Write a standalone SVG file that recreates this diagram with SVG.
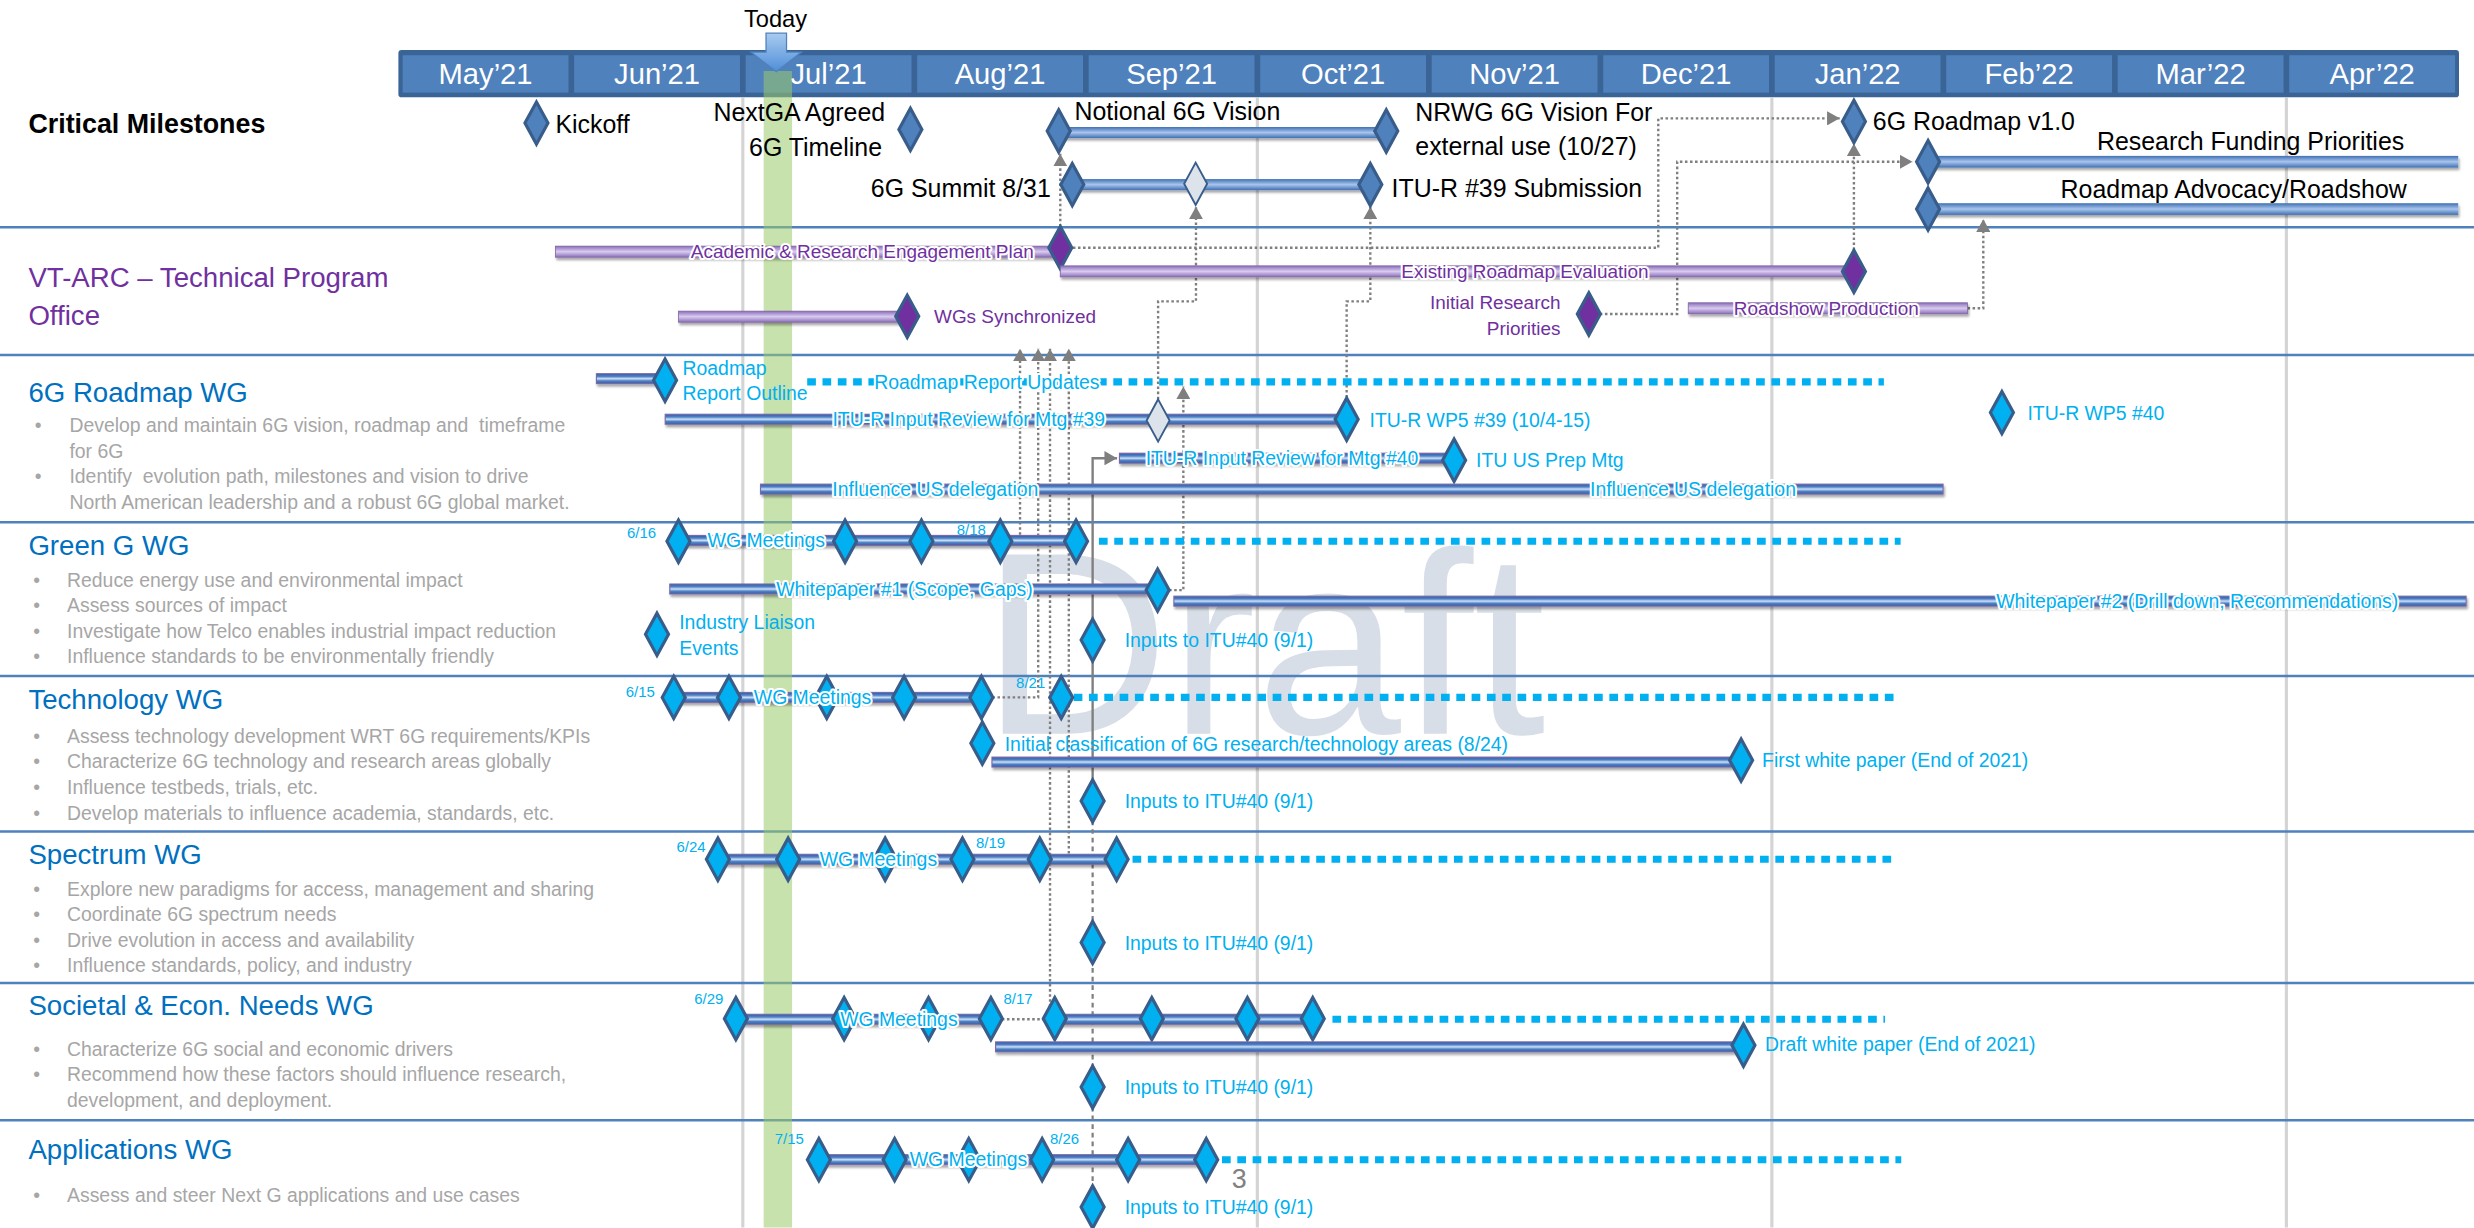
<svg xmlns="http://www.w3.org/2000/svg" width="2474" height="1228" viewBox="0 0 2474 1228">
<defs>
<style>
text{font-family:"Liberation Sans",Arial,sans-serif}
.top{font-size:15.8px;fill:#000}
.mon{font-size:18.5px;fill:#fff;text-anchor:middle}
.ttl{font-size:17.5px;fill:#0070C0}
.vt{font-size:17.5px;fill:#7030A0}
.bul{font-size:12.3px;fill:#A6A6A6}
.cy{font-size:12.3px;fill:#00B0F0}
.pu{font-size:12px;fill:#7030A0}
.dt{font-size:9.5px;fill:#00B0F0}
.h{stroke:#fff;stroke-width:2.6px;stroke-linejoin:round;paint-order:stroke fill}
.m{text-anchor:middle}
.e{text-anchor:end}
.db{fill:#4F81BD;stroke:#385D8A;stroke-width:2px}
.dc{fill:#00B0F0;stroke:#385D8A;stroke-width:2px}
.dp{fill:#7030A0;stroke:#385D8A;stroke-width:2px}
.dg{fill:#DDE3EA;stroke:#385D8A;stroke-width:1.2px}
.bb{fill:url(#gB);filter:url(#sh)}
.bw{fill:url(#gW);stroke:#7B68A8;stroke-width:0.7px;filter:url(#sh)}
.bp{fill:url(#gP);stroke:#8064A2;stroke-width:0.5px;filter:url(#sh)}
.cd{fill:none;stroke:#00B0F0;stroke-width:4.5px;stroke-dasharray:5.5 4.2}
.cn{fill:none;stroke:#7F7F7F;stroke-width:1.5px;stroke-dasharray:1.6 1.6;marker-end:url(#ah)}
.sep{stroke:#4F81BD;stroke-width:1.6px}
.grid{stroke:#D4D4D4;stroke-width:2px}
.cell{fill:#4F81BD}
</style>
<linearGradient id="gB" x1="0" y1="0" x2="0" y2="1"><stop offset="0" stop-color="#3F70B4"/><stop offset="0.5" stop-color="#A9C5EC"/><stop offset="1" stop-color="#3F70B4"/></linearGradient>
<linearGradient id="gW" x1="0" y1="0" x2="0" y2="1"><stop offset="0" stop-color="#2F5DA0"/><stop offset="0.28" stop-color="#4F82C8"/><stop offset="0.5" stop-color="#CFE0F4"/><stop offset="0.72" stop-color="#4F82C8"/><stop offset="1" stop-color="#2F5DA0"/></linearGradient>
<linearGradient id="gP" x1="0" y1="0" x2="0" y2="1"><stop offset="0" stop-color="#8B6DBA"/><stop offset="0.5" stop-color="#D9CCEF"/><stop offset="1" stop-color="#8B6DBA"/></linearGradient>
<linearGradient id="gT" x1="0" y1="0" x2="0" y2="1"><stop offset="0" stop-color="#A9CBF0"/><stop offset="1" stop-color="#4F8ED8"/></linearGradient>
<filter id="sh" x="-5%" y="-60%" width="110%" height="260%"><feDropShadow dx="0.8" dy="1.6" stdDeviation="0.8" flood-color="#000" flood-opacity="0.35"/></filter>
<marker id="ah" viewBox="0 0 10 10" refX="10" refY="5" markerWidth="8" markerHeight="9" markerUnits="userSpaceOnUse" orient="auto" preserveAspectRatio="none"><path d="M0,0 L10,5 L0,10 Z" fill="#7F7F7F"/></marker>
<path id="dm" d="M0,-13.4 L7.3,0 L0,13.4 L-7.3,0 Z"/>
</defs>
<rect width="2474" height="1228" fill="#fff"/>
<g transform="scale(1.5778)">

<g id="background">
<g class="grid"><line x1="470.8" y1="62" x2="470.8" y2="778"/><line x1="796.9" y1="62" x2="796.9" y2="778"/><line x1="1123" y1="62" x2="1123" y2="778"/><line x1="1449.1" y1="62" x2="1449.1" y2="778"/></g>
<text x="622" y="465" font-size="165" fill="#D8DEE7">Draft</text>
<g class="sep"><line x1="0" y1="144" x2="1568" y2="144"/><line x1="0" y1="225" x2="1568" y2="225"/><line x1="0" y1="331" x2="1568" y2="331"/><line x1="0" y1="428.5" x2="1568" y2="428.5"/><line x1="0" y1="527" x2="1568" y2="527"/><line x1="0" y1="623" x2="1568" y2="623"/><line x1="0" y1="710" x2="1568" y2="710"/></g>
</g>

<g id="timeline-header">
<rect x="252.5" y="31.7" width="1306" height="30" rx="2" fill="#3A6496"/>
<rect class="cell" x="255.2" y="35" width="105.1" height="23.7"/>
<rect class="cell" x="363.9" y="35" width="105.1" height="23.7"/>
<rect class="cell" x="472.6" y="35" width="105.1" height="23.7"/>
<rect class="cell" x="581.3" y="35" width="105.1" height="23.7"/>
<rect class="cell" x="690" y="35" width="105.1" height="23.7"/>
<rect class="cell" x="798.7" y="35" width="105.1" height="23.7"/>
<rect class="cell" x="907.4" y="35" width="105.1" height="23.7"/>
<rect class="cell" x="1016.1" y="35" width="105.1" height="23.7"/>
<rect class="cell" x="1124.8" y="35" width="105.1" height="23.7"/>
<rect class="cell" x="1233.5" y="35" width="105.1" height="23.7"/>
<rect class="cell" x="1342.2" y="35" width="105.1" height="23.7"/>
<rect class="cell" x="1450.9" y="35" width="105.1" height="23.7"/>
<text class="mon" x="307.75" y="53">May’21</text>
<text class="mon" x="416.45" y="53">Jun’21</text>
<text class="mon" x="525.15" y="53">Jul’21</text>
<text class="mon" x="633.85" y="53">Aug’21</text>
<text class="mon" x="742.55" y="53">Sep’21</text>
<text class="mon" x="851.25" y="53">Oct’21</text>
<text class="mon" x="959.95" y="53">Nov’21</text>
<text class="mon" x="1068.65" y="53">Dec’21</text>
<text class="mon" x="1177.35" y="53">Jan’22</text>
<text class="mon" x="1286.05" y="53">Feb’22</text>
<text class="mon" x="1394.75" y="53">Mar’22</text>
<text class="mon" x="1503.45" y="53">Apr’22</text>
</g>

<g id="today">
<rect x="484" y="45" width="18" height="733" fill="#9BCB6C" opacity="0.55"/>
<path d="M485.5,21 H498.5 V33 H508 L492,45.5 L476,33 H485.5 Z" fill="url(#gT)" stroke="#4F81BD" stroke-width="0.8"/>
<text x="491.5" y="17" font-size="15" class="m">Today</text>
</g>

<g id="row-labels">
<text x="18" y="84" font-size="17" font-weight="bold" fill="#000">Critical Milestones</text>
<text class="vt" x="18" y="182">VT-ARC – Technical Program</text>
<text class="vt" x="18" y="206">Office</text>
<text class="ttl" x="18" y="254.6">6G Roadmap WG</text>
<g class="bul">
<text x="22" y="273.6">•</text><text x="44" y="273.6" xml:space="preserve">Develop and maintain 6G vision, roadmap and  timeframe</text>
<text x="44" y="290">for 6G</text>
<text x="22" y="306.3">•</text><text x="44" y="306.3" xml:space="preserve">Identify  evolution path, milestones and vision to drive</text>
<text x="44" y="322.6">North American leadership and a robust 6G global market.</text>
</g>
<text class="ttl" x="18" y="351.7">Green G WG</text>
<g class="bul">
<text x="21" y="371.8">•</text><text x="42.5" y="371.8">Reduce energy use and environmental impact</text>
<text x="21" y="388">•</text><text x="42.5" y="388">Assess sources of impact</text>
<text x="21" y="404.2">•</text><text x="42.5" y="404.2">Investigate how Telco enables industrial impact reduction</text>
<text x="21" y="420.4">•</text><text x="42.5" y="420.4">Influence standards to be environmentally friendly</text>
</g>
<text class="ttl" x="18" y="449.5">Technology WG</text>
<g class="bul">
<text x="21" y="471">•</text><text x="42.5" y="471">Assess technology development WRT 6G requirements/KPIs</text>
<text x="21" y="487">•</text><text x="42.5" y="487">Characterize 6G technology and research areas globally</text>
<text x="21" y="503">•</text><text x="42.5" y="503">Influence testbeds, trials, etc.</text>
<text x="21" y="519.5">•</text><text x="42.5" y="519.5">Develop materials to influence academia, standards, etc.</text>
</g>
<text class="ttl" x="18" y="547.5">Spectrum WG</text>
<g class="bul">
<text x="21" y="568">•</text><text x="42.5" y="568">Explore new paradigms for access, management and sharing</text>
<text x="21" y="584">•</text><text x="42.5" y="584">Coordinate 6G spectrum needs</text>
<text x="21" y="600">•</text><text x="42.5" y="600">Drive evolution in access and availability</text>
<text x="21" y="616">•</text><text x="42.5" y="616">Influence standards, policy, and industry</text>
</g>
<text class="ttl" x="18" y="643.5">Societal &amp; Econ. Needs WG</text>
<g class="bul">
<text x="21" y="669">•</text><text x="42.5" y="669">Characterize 6G social and economic drivers</text>
<text x="21" y="685">•</text><text x="42.5" y="685">Recommend how these factors should influence research,</text>
<text x="42.5" y="701.5">development, and deployment.</text>
</g>
<text class="ttl" x="18" y="734.5">Applications WG</text>
<g class="bul">
<text x="21" y="762">•</text><text x="42.5" y="762">Assess and steer Next G applications and use cases</text>
</g>
</g>

<g id="connectors">
<path class="cn" d="M672,143.5 V97.5"/>
<path class="cn" d="M734,253 V191 H758 V131"/>
<path class="cn" d="M853.5,252 V191 H868.5 V131"/>
<path class="cn" d="M680,157 H1051 V75 H1166"/>
<path class="cn" d="M1014,199 H1063 V102.5 H1212"/>
<path class="cn" d="M1175,158.5 V91"/>
<path class="cn" d="M1247,195.4 H1257 V139"/>
<path class="cn" d="M641,343 H646.5 V221"/>
<path class="cn" d="M629,442 H658 V221"/>
<path class="cn" d="M617,544.6 H677.4 V221"/>
<path class="cn" d="M635,646 H665.5 V221"/>
<path class="cn" d="M741,374 H750 V245"/>
<path d="M692.5,507.6 V290.4 H708" fill="none" stroke="#7F7F7F" stroke-width="1.5" marker-end="url(#ah)"/>
<path d="M692.5,765 V507.6" fill="none" stroke="#7F7F7F" stroke-width="1.4" stroke-dasharray="3 2.5"/>
</g>

<g id="kickoff"><use href="#dm" x="340" y="78" class="db"/><text class="top" x="352" y="84.5">Kickoff</text></g>
<g id="nextga-timeline"><use href="#dm" x="577" y="82" class="db"/><text class="top e" x="561" y="77">NextGA Agreed</text><text class="top e" x="559" y="99">6G Timeline</text></g>
<g id="notional-vision"><rect class="bb" x="671" y="80.5" width="207.6" height="7"/><use href="#dm" x="671" y="83" class="db"/><use href="#dm" x="878.6" y="83" class="db"/><text class="top" x="681" y="76">Notional 6G Vision</text><text class="top" x="897" y="77">NRWG 6G Vision For</text><text class="top" x="897" y="98.5">external use (10/27)</text></g>
<g id="summit-itu39"><rect class="bb" x="680" y="113.5" width="188.5" height="7"/><use href="#dm" x="679.6" y="117" class="db"/><use href="#dm" x="757.8" y="116.5" class="dg"/><use href="#dm" x="868.5" y="117" class="db"/><text class="top e" x="666" y="125">6G Summit 8/31</text><text class="top" x="882" y="124.7">ITU-R #39 Submission</text></g>
<g id="roadmap-v1"><use href="#dm" x="1175" y="77" class="db"/><text class="top" x="1187" y="82.5">6G Roadmap v1.0</text></g>
<g id="research-funding"><rect class="bb" x="1222" y="98.8" width="336" height="7.4"/><use href="#dm" x="1222" y="102.5" class="db"/><text class="top" x="1329" y="95">Research Funding Priorities</text></g>
<g id="roadmap-advocacy"><rect class="bb" x="1222" y="128.8" width="336" height="7.4"/><use href="#dm" x="1222" y="132.5" class="db"/><text class="top" x="1306" y="125.7">Roadmap Advocacy/Roadshow</text></g>

<g id="academic-plan"><rect class="bp" x="352" y="156" width="320" height="7"/><use href="#dm" x="672" y="157" class="dp"/><text class="pu h m" x="546.5" y="163.8">Academic &amp; Research Engagement Plan</text></g>
<g id="existing-evaluation"><rect class="bp" x="672" y="168.5" width="503" height="7"/><use href="#dm" x="1175" y="172" class="dp"/><text class="pu h m" x="966.5" y="176.3">Existing Roadmap Evaluation</text></g>
<g id="wgs-synchronized"><rect class="bp" x="430" y="197.2" width="145" height="7"/><use href="#dm" x="575" y="200.5" class="dp"/><text class="pu" x="592" y="204.5">WGs Synchronized</text></g>
<g id="initial-research"><use href="#dm" x="1007" y="199" class="dp"/><text class="pu e" x="989" y="196">Initial Research</text><text class="pu e" x="989" y="212.5">Priorities</text></g>
<g id="roadshow-production"><rect class="bp" x="1070" y="191.9" width="177" height="7"/><text class="pu h m" x="1157.5" y="199.6">Roadshow Production</text></g>

<g id="report-outline"><rect class="bw" x="378" y="236.85" width="43.5" height="6.3"/><use href="#dm" x="421.5" y="241" class="dc"/><text class="cy" x="432.6" y="237.7">Roadmap</text><text class="cy" x="432.6" y="253.5">Report Outline</text></g>
<g id="report-updates"><line class="cd" x1="511.6" y1="242" x2="1194" y2="242"/><text class="cy h m" x="625.5" y="246.3">Roadmap Report Updates</text></g>
<g id="itu39-review"><rect class="bw" x="421.6" y="262.55" width="432" height="6.3"/><use href="#dm" x="734" y="266.5" class="dg"/><use href="#dm" x="853.5" y="265.7" class="dc"/><text class="cy h m" x="614" y="270">ITU-R Input Review for Mtg #39</text><text class="cy" x="868" y="270.4">ITU-R WP5 #39 (10/4-15)</text></g>
<g id="itu40-review"><rect class="bw" x="709.5" y="287.25" width="212" height="6.3"/><use href="#dm" x="921.6" y="291.7" class="dc"/><text class="cy h m" x="812.5" y="294.7">ITU-R Input Review for Mtg #40</text><text class="cy" x="935.5" y="295.8">ITU US Prep Mtg</text></g>
<g id="influence-us"><rect class="bw" x="482" y="306.85" width="749.5" height="6.3"/><text class="cy h m" x="592.8" y="314.3">Influence US delegation</text><text class="cy h m" x="1073" y="314.3">Influence US delegation</text></g>
<g id="itu-wp5-40"><use href="#dm" x="1268.8" y="261.5" class="dc"/><text class="cy" x="1285" y="266">ITU-R WP5 #40</text></g>

<g id="green-meetings"><rect class="bw" x="430" y="339.35" width="252" height="6.3"/><line class="cd" x1="696.5" y1="343" x2="1204.6" y2="343"/><use href="#dm" x="430" y="343" class="dc"/><use href="#dm" x="535.6" y="343" class="dc"/><use href="#dm" x="584" y="343" class="dc"/><use href="#dm" x="634" y="343" class="dc"/><use href="#dm" x="682" y="343" class="dc"/><text class="cy h m" x="485.7" y="346.8">WG Meetings</text><text class="dt" x="397.4" y="341">6/16</text><text class="dt" x="606.4" y="339">8/18</text></g>
<g id="whitepaper1"><rect class="bw" x="424.5" y="370.15" width="309.2" height="6.3"/><use href="#dm" x="733.7" y="374" class="dc"/><text class="cy h m" x="573.2" y="377.6">Whitepaper #1 (Scope, Gaps)</text></g>
<g id="whitepaper2"><rect class="bw" x="744" y="377.85" width="819" height="6.3"/><text class="cy h m" x="1392.6" y="385.3">Whitepaper #2 (Drill down, Recommendations)</text></g>
<g id="industry-liaison"><use href="#dm" x="416.4" y="402" class="dc"/><text class="cy" x="430.5" y="398.8">Industry Liaison</text><text class="cy" x="430.5" y="415">Events</text></g>
<g id="green-inputs"><use href="#dm" x="692.5" y="405.7" class="dc"/><text class="cy" x="712.8" y="410.2">Inputs to ITU#40 (9/1)</text></g>

<g id="tech-meetings"><rect class="bw" x="427" y="438.85" width="195" height="6.3"/><line class="cd" x1="680.5" y1="442" x2="1202.7" y2="442"/><use href="#dm" x="427" y="442" class="dc"/><use href="#dm" x="462" y="442" class="dc"/><use href="#dm" x="524" y="442" class="dc"/><use href="#dm" x="573" y="442" class="dc"/><use href="#dm" x="622" y="442" class="dc"/><use href="#dm" x="672.6" y="442" class="dc"/><text class="cy h m" x="515" y="446.3">WG Meetings</text><text class="dt" x="396.6" y="441.5">6/15</text><text class="dt" x="644" y="436">8/21</text></g>
<g id="tech-classification"><rect class="bw" x="628.7" y="479.85" width="475" height="6.3"/><use href="#dm" x="622.6" y="471" class="dc"/><use href="#dm" x="1103.5" y="481.8" class="dc"/><text class="cy" x="636.8" y="476">Initial classification of 6G research/technology areas (8/24)</text><text class="cy" x="1116.8" y="486">First white paper (End of 2021)</text></g>
<g id="tech-inputs"><use href="#dm" x="692.5" y="507.6" class="dc"/><text class="cy" x="712.8" y="512.1">Inputs to ITU#40 (9/1)</text></g>

<g id="spectrum-meetings"><rect class="bw" x="455" y="541.45" width="252.7" height="6.3"/><line class="cd" x1="717.8" y1="544.6" x2="1200" y2="544.6"/><use href="#dm" x="455" y="544.6" class="dc"/><use href="#dm" x="499.5" y="544.6" class="dc"/><use href="#dm" x="561" y="544.6" class="dc"/><use href="#dm" x="610" y="544.6" class="dc"/><use href="#dm" x="659" y="544.6" class="dc"/><use href="#dm" x="707.7" y="544.6" class="dc"/><text class="cy h m" x="556.7" y="548.9">WG Meetings</text><text class="dt" x="428.8" y="539.8">6/24</text><text class="dt" x="618.6" y="537.6">8/19</text></g>
<g id="spectrum-inputs"><use href="#dm" x="692.5" y="597.3" class="dc"/><text class="cy" x="712.8" y="601.8">Inputs to ITU#40 (9/1)</text></g>

<g id="societal-meetings"><rect class="bw" x="466.4" y="642.85" width="161.6" height="6.3"/><rect class="bw" x="668.5" y="642.85" width="163.5" height="6.3"/><line class="cd" x1="844.5" y1="646" x2="1194.7" y2="646"/><use href="#dm" x="466.4" y="645.6" class="dc"/><use href="#dm" x="535" y="645.6" class="dc"/><use href="#dm" x="588.5" y="645.6" class="dc"/><use href="#dm" x="628" y="645.6" class="dc"/><use href="#dm" x="668.5" y="645.6" class="dc"/><use href="#dm" x="730" y="645.6" class="dc"/><use href="#dm" x="790.6" y="645.6" class="dc"/><use href="#dm" x="832" y="645.6" class="dc"/><text class="cy h m" x="569.7" y="650.3">WG Meetings</text><text class="dt" x="440" y="636.3">6/29</text><text class="dt" x="636" y="636.3">8/17</text></g>
<g id="draft-whitepaper"><rect class="bw" x="631" y="660.35" width="474" height="6.3"/><use href="#dm" x="1105" y="662.5" class="dc"/><text class="cy" x="1118.6" y="666">Draft white paper (End of 2021)</text></g>
<g id="societal-inputs"><use href="#dm" x="692.5" y="689" class="dc"/><text class="cy" x="712.8" y="693.5">Inputs to ITU#40 (9/1)</text></g>

<g id="apps-meetings"><rect class="bw" x="519" y="731.85" width="245.5" height="6.3"/><line class="cd" x1="774.5" y1="735" x2="1205" y2="735"/><use href="#dm" x="519" y="735" class="dc"/><use href="#dm" x="567" y="735" class="dc"/><use href="#dm" x="614" y="735" class="dc"/><use href="#dm" x="660.5" y="735" class="dc"/><use href="#dm" x="715" y="735" class="dc"/><use href="#dm" x="764.5" y="735" class="dc"/><text class="cy h m" x="613.8" y="739.3">WG Meetings</text><text class="dt" x="491" y="725">7/15</text><text class="dt" x="665.5" y="725">8/26</text></g>
<g id="apps-inputs"><use href="#dm" x="692.5" y="765" class="dc"/><text class="cy" x="712.8" y="769.5">Inputs to ITU#40 (9/1)</text></g>
<g id="page-number"><text x="780.6" y="753" font-size="17" fill="#808080">3</text></g>

</g>
</svg>
